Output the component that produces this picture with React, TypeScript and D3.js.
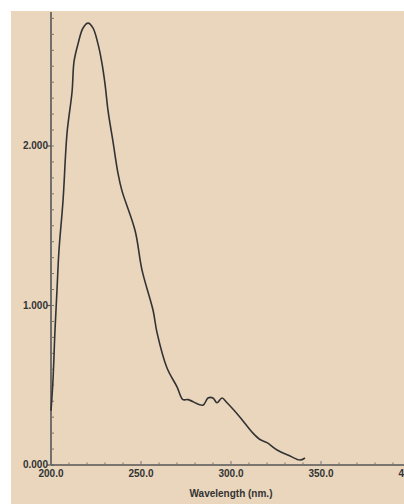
import React from "react";
import * as d3 from "d3";

const wavelengths = [200.0, 201.1, 202.2, 203.3, 204.4, 206.7, 208.9, 211.7, 212.8, 215.0, 217.8, 220.6, 223.3, 226.1, 228.3, 230.0, 231.7, 234.4, 237.2, 239.4, 246.7, 250.6, 256.7, 258.9, 264.4, 270.0, 273.3, 276.1, 284.4, 287.2, 290.0, 292.2, 295.0, 297.8, 305.0, 312.2, 316.1, 320.0, 325.6, 332.8, 338.3, 341.1];
const absorbance = [0.34, 0.53, 0.84, 1.09, 1.34, 1.66, 2.08, 2.34, 2.53, 2.64, 2.74, 2.77, 2.74, 2.64, 2.52, 2.39, 2.22, 2.03, 1.83, 1.72, 1.47, 1.22, 0.97, 0.83, 0.61, 0.49, 0.41, 0.41, 0.375, 0.42, 0.42, 0.39, 0.42, 0.39, 0.30, 0.20, 0.16, 0.14, 0.094, 0.056, 0.031, 0.044];
const xTickValues = [200, 250, 300, 350, 400];
const yTickValues = [0, 1, 2];
const xLabel = "Wavelength (nm.)";

export default function App() {
  const W = 404, H = 504;
  const x = d3.scaleLinear().domain([200, 400]).range([51, 411]);
  const y = d3.scaleLinear().domain([0, 2.84]).range([465, 12]);
  const pts = wavelengths.map((w, i) => [w, absorbance[i]] as [number, number]);
  const line = d3.line<[number, number]>().x(d => x(d[0])).y(d => y(d[1])).curve(d3.curveCatmullRom.alpha(0.5));
  const xMinor = d3.range(200, 401, 10);
  const yMinor = d3.range(0, 2.81, 0.1);
  const font = "'Liberation Sans', Arial, sans-serif";
  return (
    <svg width={W} height={H} style={{ position: "absolute", left: 0, top: 0 }}>
      <rect x={0} y={0} width={W} height={H} fill="#ffffff" />
      <rect x={11} y={11} width={W - 11} height={H - 11} fill="#e9d6bd" />
      {/* y axis */}
      <line x1={x(200)} x2={x(200)} y1={y(2.84)} y2={y(0)} stroke="#555" strokeWidth={1.6} />
      {yMinor.map((v, i) => (
        <line key={"ym" + i} x1={x(200)} x2={x(200) + 3} y1={y(v)} y2={y(v)} stroke="#777" strokeWidth={1} />
      ))}
      {yTickValues.map(v => (
        <g key={"yt" + v}>
          <line x1={x(200) - 4} x2={x(200)} y1={y(v)} y2={y(v)} stroke="#555" strokeWidth={1.2} />
          <text x={x(200) - 3} y={y(v) + (v === 0 ? 2.5 : 3.5)} textAnchor="end" fontFamily={font} fontWeight="bold" fontSize={10} fill="#333">{v.toFixed(3)}</text>
        </g>
      ))}
      {/* x axis */}
      <line x1={x(200)} x2={W} y1={y(0)} y2={y(0)} stroke="#555" strokeWidth={1.6} />
      {xMinor.map((v, i) => (
        <line key={"xm" + i} x1={x(v)} x2={x(v)} y1={y(0)} y2={y(0) - (v % 50 === 0 ? 4 : 2.5)} stroke="#777" strokeWidth={1} />
      ))}
      {xTickValues.map(v => (
        <text key={"xt" + v} x={x(v)} y={477} textAnchor="middle" fontFamily={font} fontWeight="bold" fontSize={10} fill="#333">{v.toFixed(1)}</text>
      ))}
      <text x={x(300)} y={497} textAnchor="middle" fontFamily={font} fontWeight="bold" fontSize={10} fill="#333">{xLabel}</text>
      {/* curve */}
      <path d={line(pts) || ""} fill="none" stroke="#333" strokeWidth={1.6} strokeLinejoin="round" />
    </svg>
  );
}
